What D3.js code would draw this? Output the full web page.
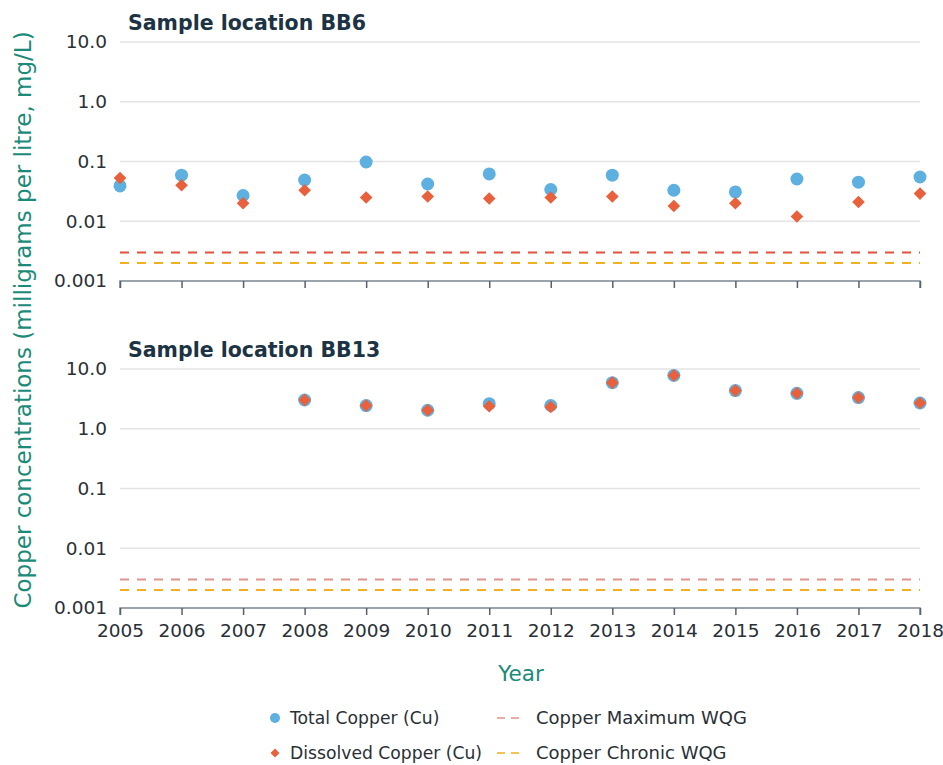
<!DOCTYPE html>
<html><head><meta charset="utf-8">
<script src="https://cdn.jsdelivr.net/npm/d3@7"></script>
<style>body{margin:0;background:#fff}svg{display:block}text{font-family:"DejaVu Sans",sans-serif}</style>
</head><body><svg id="c" width="943" height="765"></svg>
<script>
const years = [2005,2006,2007,2008,2009,2010,2011,2012,2013,2014,2015,2016,2017,2018];
const yTicks = [10, 1, 0.1, 0.01, 0.001];
const yTickLabels = ["10.0","1.0","0.1","0.01","0.001"];
const bb6Total = [0.039,0.059,0.027,0.049,0.098,0.042,0.062,0.034,0.059,0.033,0.031,0.051,0.045,0.055];
const bb6Dissolved = [0.053,0.040,0.020,0.033,0.025,0.026,0.024,0.025,0.026,0.018,0.020,0.012,0.021,0.029];
const bb13Total = [null,null,null,3.03,2.44,2.04,2.63,2.45,5.9,7.8,4.35,3.92,3.32,2.70];
const bb13Dissolved = [null,null,null,3.03,2.44,2.04,2.38,2.32,5.9,7.8,4.35,3.92,3.32,2.70];
const maxWQG = 0.003;
const chronicWQG = 0.002;
const panels = [
  {title:"Sample location BB6", total:bb6Total, dissolved:bb6Dissolved, top:42, maxColor:"#e0533a"},
  {title:"Sample location BB13", total:bb13Total, dissolved:bb13Dissolved, top:369, maxColor:"#e0948c"}
];
const cBlue = "#5eb0e0", cOrange = "#e8603c", cYellow = "#f0b020", cTeal = "#1b8a78", cDark = "#1c3344", cText = "#2a2f36";
const FONT = "'DejaVu Sans',sans-serif";

const svg = d3.select("#c");
const x = d3.scaleLinear().domain([2005,2018]).range([120,920]);

panels.forEach(p => {
  const y = d3.scaleLog().domain([0.001,10]).range([p.top+239, p.top]);
  const g = svg.append("g");
  g.append("g").selectAll("line").data(yTicks.slice(0,4)).join("line")
    .attr("x1",120).attr("x2",920).attr("y1",d=>y(d)).attr("y2",d=>y(d))
    .attr("stroke","#e4e4e4").attr("stroke-width",1.5);
  const ya = d3.axisLeft(y).tickValues(yTicks).tickFormat((d,i)=>yTickLabels[i]).tickSize(0).tickPadding(13);
  const yg = g.append("g").attr("transform","translate(120,0)").call(ya);
  yg.select(".domain").remove();
  yg.selectAll("text").attr("font-size",18.5).attr("fill",cText).style("font-family",FONT);
  const xa = d3.axisBottom(x).tickValues(years).tickSize(7).tickFormat(d3.format("d"));
  const xg = g.append("g").attr("transform",`translate(0,${y(0.001)})`).call(xa);
  xg.select(".domain").attr("stroke","#7b8791").attr("stroke-width",1.5).attr("d",`M120,7V0H920V7`);
  xg.selectAll(".tick line").attr("stroke","#56616b").attr("stroke-width",1.5);
  if (p.top < 100) xg.selectAll("text").remove();
  else xg.selectAll("text").attr("font-size",18.5).attr("fill",cText).attr("dy","1.0em").style("font-family",FONT);
  [[maxWQG,p.maxColor],[chronicWQG,cYellow]].forEach(([v,c])=>{
    g.append("line").attr("x1",120).attr("x2",920).attr("y1",y(v)).attr("y2",y(v))
      .attr("stroke",c).attr("stroke-width",2).attr("stroke-dasharray","9,8");
  });
  g.append("text").attr("x",128).attr("y",p.top-12).text(p.title)
    .attr("font-size",20.5).attr("font-weight",700).attr("fill",cDark);
  const td = years.map((yr,i)=>({yr,v:p.total[i]})).filter(d=>d.v!=null);
  const dd = years.map((yr,i)=>({yr,v:p.dissolved[i]})).filter(d=>d.v!=null);
  g.append("g").selectAll("circle").data(td).join("circle")
    .attr("cx",d=>x(d.yr)).attr("cy",d=>y(d.v)).attr("r",6.5).attr("fill",cBlue);
  const sym = d3.symbol().type(d3.symbolSquare).size(80);
  g.append("g").selectAll("path").data(dd).join("path")
    .attr("d",sym).attr("transform",d=>`translate(${x(d.yr)},${y(d.v)}) rotate(45)`).attr("fill",cOrange);
});

svg.append("text").attr("transform","translate(31,320) rotate(-90)").attr("text-anchor","middle")
  .attr("font-size",23).attr("fill",cTeal).text("Copper concentrations (milligrams per litre, mg/L)");
svg.append("text").attr("x",521).attr("y",681).attr("text-anchor","middle")
  .attr("font-size",21.5).attr("fill",cTeal).text("Year");

const leg = svg.append("g");
leg.append("circle").attr("cx",275).attr("cy",718).attr("r",5).attr("fill",cBlue);
leg.append("path").attr("d",d3.symbol().type(d3.symbolSquare).size(40)).attr("transform","translate(275,753) rotate(45)").attr("fill",cOrange);
leg.append("text").attr("x",290).attr("y",724).text("Total Copper (Cu)").attr("font-size",17.2).attr("fill",cText);
leg.append("text").attr("x",290).attr("y",759).text("Dissolved Copper (Cu)").attr("font-size",17.2).attr("fill",cText);
[[718,"#e0948c","Copper Maximum WQG"],[753,cYellow,"Copper Chronic WQG"]].forEach(([yy,c,t])=>{
  leg.append("line").attr("x1",497).attr("x2",523).attr("y1",yy).attr("y2",yy).attr("stroke",c).attr("stroke-width",1.5).attr("stroke-dasharray","8,6");
  leg.append("text").attr("x",536).attr("y",yy+6).text(t).attr("font-size",18).attr("fill",cText);
});
</script></body></html>
